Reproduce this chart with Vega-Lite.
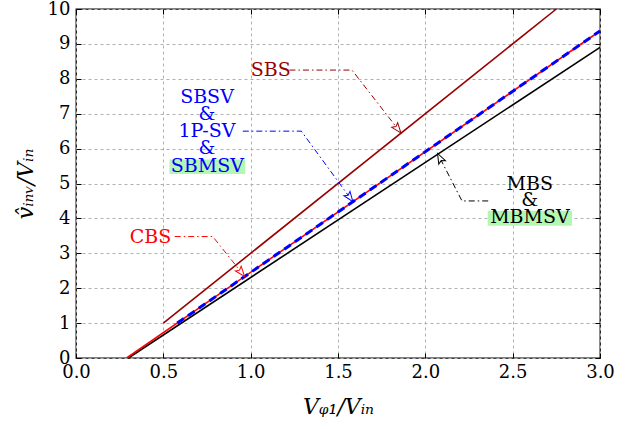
{
  "$schema": "https://vega.github.io/schema/vega-lite/v6.json",
  "width": 524,
  "height": 349,
  "autosize": "none",
  "padding": {"left": 76, "top": 9, "right": 32, "bottom": 71},
  "config": {
    "font": "DejaVu Serif",
    "view": {"stroke": "black", "strokeWidth": 1.3},
    "axis": {
      "labelFont": "DejaVu Serif", "labelFontSize": 18, "labelColor": "black",
      "labelFlush": false, "labelOverlap": false,
      "titleFont": "DejaVu Serif", "titleFontSize": 22, "titleFontWeight": "normal",
      "titleFontStyle": "italic", "titleColor": "black",
      "domain": false, "tickColor": "black", "tickSize": -5, "tickWidth": 1,
      "gridColor": "#b0b0b0", "gridDash": [3, 3], "gridWidth": 1
    }
  },
  "datasets": {
    "curves": [
      {"series": "SBS", "x": 0.5, "y": 1.0},
      {"series": "SBS", "x": 2.75, "y": 10.0},
      {"series": "CBS", "x": 0.29, "y": 0.0},
      {"series": "CBS", "x": 3.0, "y": 9.37},
      {"series": "SBSV", "x": 0.58, "y": 1.0},
      {"series": "SBSV", "x": 3.0, "y": 9.37},
      {"series": "MBS", "x": 0.30, "y": 0.0},
      {"series": "MBS", "x": 3.0, "y": 8.9}
    ],
    "leaders": [
      {"leader": "SBS", "order": 1, "x": 1.222, "y": 8.25},
      {"leader": "SBS", "order": 2, "x": 1.58, "y": 8.25},
      {"leader": "SBS", "order": 3, "x": 1.86, "y": 6.45},
      {"leader": "SBSV", "order": 1, "x": 0.955, "y": 6.5},
      {"leader": "SBSV", "order": 2, "x": 1.29, "y": 6.5},
      {"leader": "SBSV", "order": 3, "x": 1.585, "y": 4.48},
      {"leader": "CBS", "order": 1, "x": 0.565, "y": 3.48},
      {"leader": "CBS", "order": 2, "x": 0.783, "y": 3.48},
      {"leader": "CBS", "order": 3, "x": 0.965, "y": 2.34},
      {"leader": "MBS", "order": 1, "x": 2.36, "y": 4.5},
      {"leader": "MBS", "order": 2, "x": 2.21, "y": 4.5},
      {"leader": "MBS", "order": 3, "x": 2.07, "y": 5.86}
    ],
    "boxes": [
      {"box": "SBMSV", "x": 0.535, "x2": 0.9685, "y": 5.27, "y2": 5.69},
      {"box": "MBMSV", "x": 2.357, "x2": 2.840, "y": 3.79, "y2": 4.22}
    ],
    "labels": [
      {"group": "SBS", "text": "SBS", "x": 1.115, "y": 8.25},
      {"group": "SBSV", "text": "SBSV", "x": 0.75, "y": 7.48},
      {"group": "SBSV", "text": "&", "x": 0.75, "y": 6.98},
      {"group": "SBSV", "text": "1P-SV", "x": 0.75, "y": 6.5},
      {"group": "SBSV", "text": "&", "x": 0.75, "y": 6.02},
      {"group": "SBSV", "text": "SBMSV", "x": 0.752, "y": 5.5},
      {"group": "CBS", "text": "CBS", "x": 0.427, "y": 3.48},
      {"group": "MBS", "text": "MBS", "x": 2.598, "y": 5.0},
      {"group": "MBS", "text": "&", "x": 2.598, "y": 4.53},
      {"group": "MBS", "text": "MBMSV", "x": 2.599, "y": 4.03}
    ]
  },
  "layer": [
    {
      "encoding": {
        "x": {"field": "x", "type": "quantitative",
          "scale": {"domain": [0, 3], "nice": false, "zero": false},
          "axis": {"values": [0, 0.5, 1, 1.5, 2, 2.5, 3], "format": ".1f", "title": "Vᵩ₁/Vᵢₙ",
            "grid": true, "labelPadding": 10, "titlePadding": 15}},
        "y": {"field": "y", "type": "quantitative",
          "scale": {"domain": [0, 10], "nice": false},
          "axis": {"values": [0, 1, 2, 3, 4, 5, 6, 7, 8, 9, 10], "format": "d", "title": "v̂ᵢₙᵥ/Vᵢₙ",
            "grid": true, "labelPadding": 11, "titlePadding": 10}}
      },
      "layer": [
        {
          "data": {"name": "boxes"},
          "mark": {"type": "rect", "color": "#b3f7b3"},
          "encoding": {"x2": {"field": "x2"}, "y2": {"field": "y2"}}
        },
        {
          "data": {"name": "curves"},
          "transform": [{"filter": "datum.series === 'SBS'"}],
          "mark": {"type": "line", "color": "#990000", "strokeWidth": 1.6}
        },
        {
          "data": {"name": "curves"},
          "transform": [{"filter": "datum.series === 'MBS'"}],
          "mark": {"type": "line", "color": "black", "strokeWidth": 1.6}
        },
        {
          "data": {"name": "curves"},
          "transform": [{"filter": "datum.series === 'CBS'"}],
          "mark": {"type": "line", "color": "#ff0000", "strokeWidth": 1.6}
        },
        {
          "data": {"name": "curves"},
          "transform": [{"filter": "datum.series === 'SBSV'"}],
          "mark": {"type": "line", "color": "#0000ff", "strokeWidth": 3, "strokeDash": [8, 5]}
        },
        {
          "data": {"name": "leaders"},
          "mark": {"type": "line", "strokeWidth": 1, "strokeDash": [6, 3, 1.5, 3]},
          "encoding": {
            "order": {"field": "order", "type": "quantitative"},
            "detail": {"field": "leader"},
            "color": {"field": "leader", "type": "nominal", "legend": null,
              "scale": {"domain": ["SBS", "SBSV", "CBS", "MBS"], "range": ["#990000", "#0000ff", "#ff0000", "#000000"]}}
          }
        },
        {
          "data": {"name": "leaders"},
          "transform": [{"filter": "datum.leader === 'SBS' && datum.order === 3"}],
          "mark": {"type": "point", "shape": "M0,0 L-0.75,2 L0,1.6 L0.75,2 Z", "size": 100, "angle": 142,
            "filled": true, "fill": "white", "stroke": "#990000", "strokeWidth": 1, "opacity": 1}
        },
        {
          "data": {"name": "leaders"},
          "transform": [{"filter": "datum.leader === 'SBSV' && datum.order === 3"}],
          "mark": {"type": "point", "shape": "M0,0 L-0.75,2 L0,1.6 L0.75,2 Z", "size": 100, "angle": 144,
            "filled": true, "fill": "white", "stroke": "#0000ff", "strokeWidth": 1, "opacity": 1}
        },
        {
          "data": {"name": "leaders"},
          "transform": [{"filter": "datum.leader === 'CBS' && datum.order === 3"}],
          "mark": {"type": "point", "shape": "M0,0 L-0.75,2 L0,1.6 L0.75,2 Z", "size": 100, "angle": 141,
            "filled": true, "fill": "white", "stroke": "#ff0000", "strokeWidth": 1, "opacity": 1}
        },
        {
          "data": {"name": "leaders"},
          "transform": [{"filter": "datum.leader === 'MBS' && datum.order === 3"}],
          "mark": {"type": "point", "shape": "M0,0 L-0.75,2 L0,1.6 L0.75,2 Z", "size": 100, "angle": 333,
            "filled": true, "fill": "white", "stroke": "#000000", "strokeWidth": 1, "opacity": 1}
        },
        {
          "data": {"name": "labels"},
          "mark": {"type": "text", "font": "DejaVu Serif", "fontSize": 19, "align": "center", "baseline": "middle"},
          "encoding": {
            "text": {"field": "text"},
            "color": {"field": "group", "type": "nominal", "legend": null,
              "scale": {"domain": ["SBS", "SBSV", "CBS", "MBS"], "range": ["#990000", "#1a1aff", "#ff1a1a", "#111111"]}}
          }
        }
      ]
    },
    {
      "data": {"values": [{"x": 0, "y": 0}]},
      "mark": {"type": "point", "opacity": 0},
      "encoding": {
        "x": {"field": "x", "type": "quantitative", "scale": {"domain": [0, 3], "nice": false, "zero": false},
          "axis": {"orient": "top", "values": [0, 0.5, 1, 1.5, 2, 2.5, 3], "labels": false, "grid": false, "title": null}},
        "y": {"field": "y", "type": "quantitative", "scale": {"domain": [0, 10], "nice": false},
          "axis": {"orient": "right", "values": [0, 1, 2, 3, 4, 5, 6, 7, 8, 9, 10], "labels": false, "grid": false, "title": null}}
      }
    }
  ],
  "resolve": {"axis": {"x": "independent", "y": "independent"}}
}
